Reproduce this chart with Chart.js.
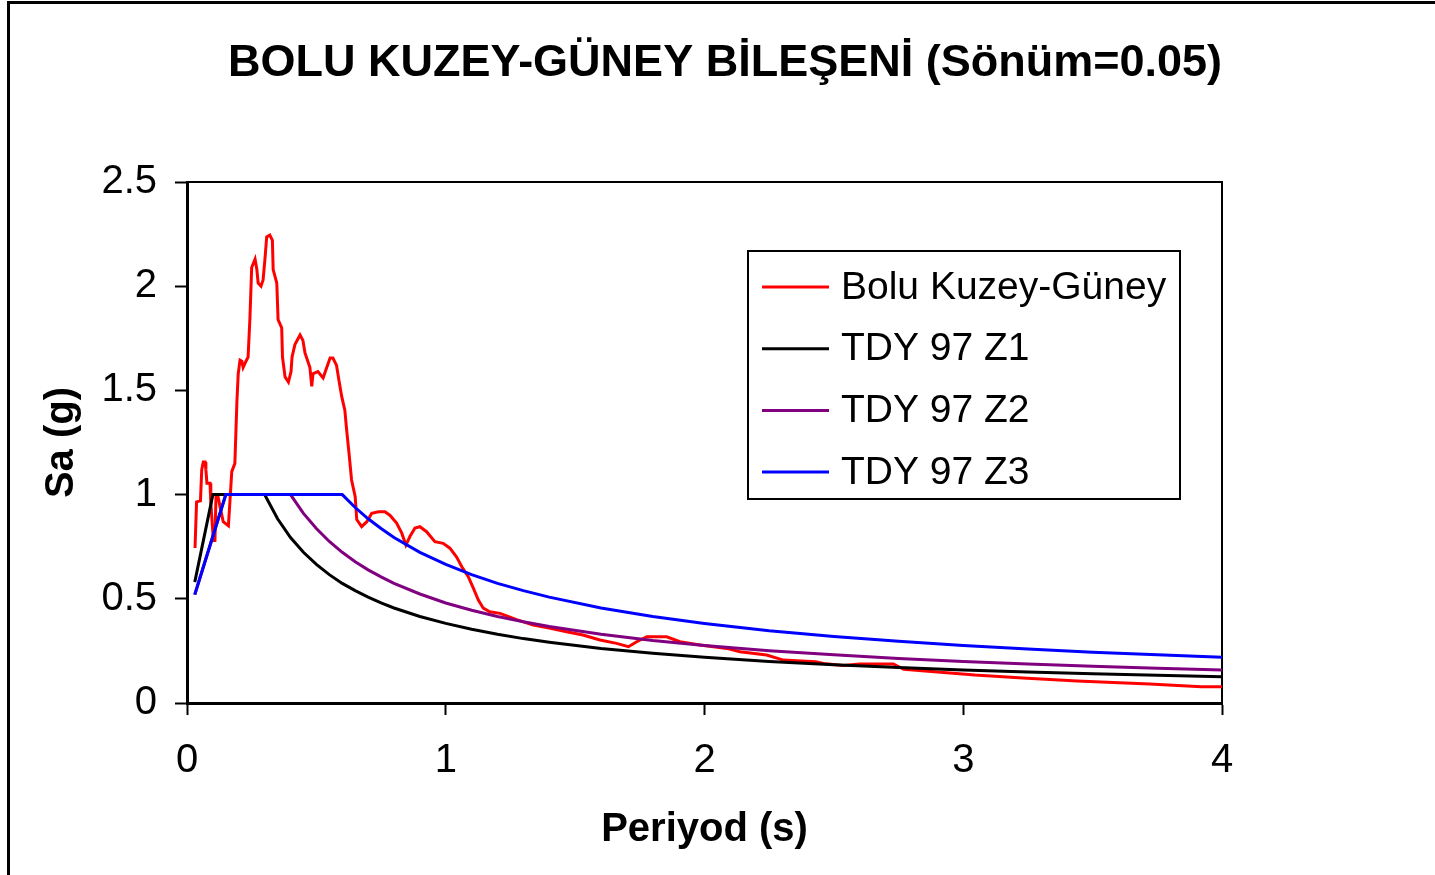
<!DOCTYPE html>
<html><head><meta charset="utf-8">
<script src="https://cdn.jsdelivr.net/npm/chart.js@4/dist/chart.umd.min.js"></script>
<style>html,body{margin:0;padding:0;background:#fff;overflow:hidden}canvas{display:block}</style>
</head><body>
<canvas id="c" width="1435" height="875"></canvas>
<script>
const chartTitle = 'BOLU KUZEY-GÜNEY BİLEŞENİ (Sönüm=0.05)';
const xAxisTitle = 'Periyod (s)';
const yAxisTitle = 'Sa (g)';
const seriesNames = ['Bolu Kuzey-Güney', 'TDY 97 Z1', 'TDY 97 Z2', 'TDY 97 Z3'];
const seriesColors = ['#ff0000', '#000000', '#800080', '#0000ff'];
const xTicks = [0, 1, 2, 3, 4];
const yTicks = [0, 0.5, 1, 1.5, 2, 2.5];

const boluPeriods = [0.031,0.037,0.052,0.057,0.063,0.070,0.073,0.077,0.089,0.092,0.102,0.108,0.112,0.120,0.128,0.140,0.160,0.166,0.173,0.185,0.189,0.193,0.198,0.205,0.212,0.217,0.228,0.236,0.243,0.250,0.263,0.270,0.275,0.286,0.294,0.301,0.308,0.320,0.330,0.333,0.347,0.352,0.366,0.369,0.379,0.392,0.402,0.406,0.417,0.437,0.448,0.456,0.475,0.482,0.487,0.506,0.526,0.540,0.553,0.564,0.578,0.587,0.598,0.610,0.617,0.626,0.636,0.650,0.656,0.675,0.695,0.714,0.740,0.765,0.785,0.810,0.830,0.846,0.862,0.881,0.900,0.926,0.958,0.990,1.016,1.042,1.062,1.087,1.107,1.126,1.145,1.170,1.210,1.274,1.338,1.400,1.467,1.530,1.596,1.660,1.706,1.738,1.777,1.854,1.905,1.983,2.086,2.137,2.240,2.305,2.430,2.460,2.535,2.600,2.730,2.770,2.900,3.045,3.230,3.440,3.720,3.920,4.000];
const boluSa = [0.744,0.965,0.970,1.120,1.157,1.157,1.120,1.055,1.055,0.960,0.780,0.780,0.990,0.990,0.940,0.870,0.850,0.970,1.110,1.150,1.300,1.450,1.580,1.645,1.640,1.610,1.640,1.660,1.840,2.090,2.130,2.080,2.015,2.000,2.030,2.126,2.237,2.245,2.220,2.080,2.015,1.840,1.800,1.660,1.565,1.540,1.590,1.660,1.720,1.766,1.740,1.680,1.610,1.520,1.580,1.590,1.560,1.610,1.655,1.655,1.620,1.550,1.470,1.405,1.310,1.200,1.070,0.990,0.880,0.846,0.870,0.910,0.918,0.918,0.900,0.863,0.815,0.758,0.800,0.840,0.846,0.822,0.774,0.766,0.743,0.700,0.654,0.606,0.550,0.494,0.455,0.438,0.430,0.400,0.374,0.360,0.342,0.326,0.302,0.286,0.270,0.294,0.318,0.318,0.294,0.278,0.262,0.246,0.230,0.206,0.198,0.190,0.180,0.187,0.187,0.162,0.149,0.134,0.120,0.106,0.091,0.078,0.078];

const tdyPeriods = [0.03,0.05,0.07,0.10,0.15,0.20,0.25,0.30,0.35,0.40,0.45,0.50,0.55,0.60,0.65,0.70,0.75,0.80,0.90,1.00,1.10,1.20,1.30,1.40,1.60,1.80,2.00,2.25,2.50,2.75,3.00,3.25,3.50,3.75,4.00];
const tdyZ1 = [0.58,0.70,0.82,1.00,1.00,1.00,1.00,1.00,0.884,0.794,0.723,0.665,0.616,0.574,0.539,0.508,0.480,0.456,0.415,0.382,0.354,0.330,0.309,0.292,0.262,0.2385,0.219,0.1995,0.1834,0.170,0.1585,0.1487,0.140,0.1326,0.126];
const tdyZ2 = [0.52,0.60,0.68,0.80,1.00,1.00,1.00,1.00,1.00,1.00,0.910,0.837,0.775,0.723,0.678,0.639,0.605,0.574,0.523,0.480,0.445,0.415,0.3895,0.367,0.330,0.300,0.276,0.251,0.231,0.214,0.1995,0.187,0.1764,0.167,0.1585];
const tdyZ3 = [0.52,0.60,0.68,0.80,1.00,1.00,1.00,1.00,1.00,1.00,1.00,1.00,1.00,1.00,0.938,0.884,0.837,0.794,0.723,0.665,0.616,0.574,0.539,0.508,0.456,0.415,0.382,0.347,0.319,0.296,0.276,0.259,0.244,0.231,0.219];

const FONT = "'Liberation Sans', Arial, sans-serif";
const pts = (xs, ys) => xs.map((x, i) => ({x: x, y: ys[i]}));
const seriesData = [pts(boluPeriods, boluSa), pts(tdyPeriods, tdyZ1), pts(tdyPeriods, tdyZ2), pts(tdyPeriods, tdyZ3)];
const drawOrder = [3, 2, 1, 0];

const pagePlugin = {
  id: 'page',
  beforeDraw(chart) {
    const ctx = chart.ctx;
    ctx.save();
    ctx.fillStyle = '#fff';
    ctx.fillRect(0, 0, chart.width, chart.height);
    ctx.strokeStyle = '#000';
    ctx.lineWidth = 3;
    ctx.beginPath();
    ctx.moveTo(8.5, 875); ctx.lineTo(8.5, 2.5); ctx.lineTo(1435, 2.5);
    ctx.stroke();
    ctx.restore();
  },
  beforeDatasetsDraw(chart) {
    const a = chart.chartArea, ctx = chart.ctx;
    ctx.save();
    ctx.strokeStyle = '#000';
    ctx.lineWidth = 2;
    ctx.beginPath();
    ctx.moveTo(a.left, a.top); ctx.lineTo(a.right, a.top); ctx.lineTo(a.right, a.bottom);
    ctx.stroke();
    ctx.restore();
  },
  afterDraw(chart) {
    const ctx = chart.ctx;
    ctx.save();
    ctx.fillStyle = '#fff';
    ctx.fillRect(748, 251, 432, 248);
    ctx.strokeStyle = '#000';
    ctx.lineWidth = 2;
    ctx.strokeRect(748, 251, 432, 248);
    ctx.font = '39px ' + FONT;
    ctx.textBaseline = 'middle';
    ctx.textAlign = 'left';
    seriesNames.forEach((name, i) => {
      const y = 287 + i * 61.7;
      ctx.strokeStyle = seriesColors[i];
      ctx.lineWidth = 3;
      ctx.beginPath(); ctx.moveTo(762, y); ctx.lineTo(829, y); ctx.stroke();
      ctx.fillStyle = '#000';
      ctx.fillText(name, 841, y + 1);
    });
    ctx.restore();
  }
};

const axisCommon = (ticksArr, fitFn, pad, titleText, titlePad) => ({
  type: 'linear',
  min: ticksArr[0], max: ticksArr[ticksArr.length - 1],
  afterBuildTicks: s => { s.ticks = ticksArr.map(v => ({value: v})); },
  afterFit: fitFn,
  ticks: {color: '#000', font: {family: FONT, size: 40}, padding: pad, maxRotation: 0, autoSkip: false, callback: v => String(v)},
  grid: {display: true, drawOnChartArea: false, drawTicks: true, tickLength: 12, tickWidth: 2, tickColor: '#000'},
  border: {display: true, color: '#000', width: 3},
  title: {display: true, text: titleText, color: '#000', font: {family: FONT, size: 40, weight: 'bold'}, padding: titlePad}
});

new Chart(document.getElementById('c'), {
  type: 'scatter',
  data: {
    datasets: drawOrder.map(i => ({
      label: seriesNames[i],
      data: seriesData[i],
      showLine: true,
      borderColor: seriesColors[i],
      backgroundColor: seriesColors[i],
      borderWidth: 3,
      pointRadius: 0,
      tension: 0,
      fill: false
    }))
  },
  options: {
    responsive: false,
    animation: false,
    devicePixelRatio: 1,
    layout: {padding: {left: 18, right: 213, top: 0, bottom: 0}},
    plugins: {
      legend: {display: false},
      tooltip: {enabled: false},
      title: {display: true, align: 'end', text: chartTitle, color: '#000', font: {family: FONT, size: 45, weight: 'bold'}, padding: {top: 37, bottom: 91}}
    },
    scales: {
      x: axisCommon(xTicks, s => { s.height = 172; }, 22, xAxisTitle, {top: 0, bottom: 21}),
      y: axisCommon(yTicks, s => { s.width = 169; }, 18, yAxisTitle, {top: 20, bottom: 0})
    }
  },
  plugins: [pagePlugin]
});
</script>
</body></html>
